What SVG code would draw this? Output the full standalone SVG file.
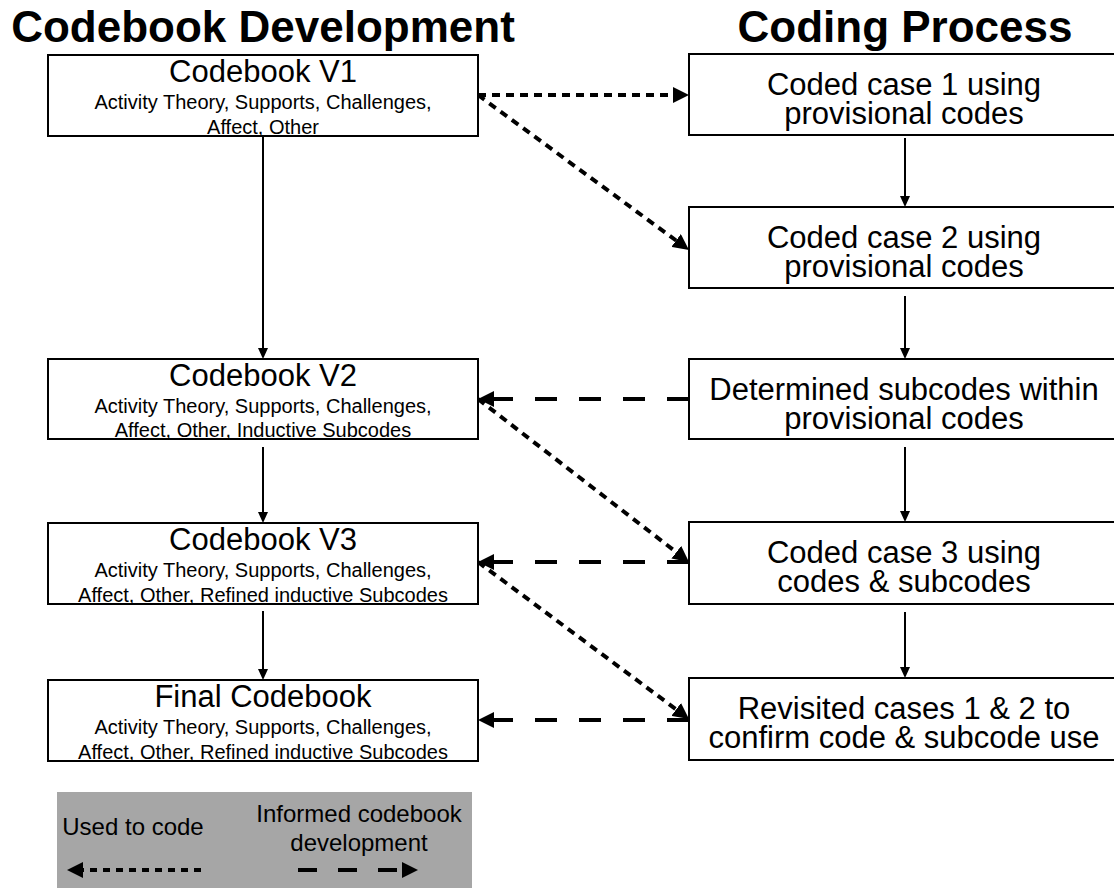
<svg xmlns="http://www.w3.org/2000/svg" width="1114" height="888" viewBox="0 0 1114 888">
<style>
text{font-family:"Liberation Sans",Arial,sans-serif;fill:#000}
.h{font-size:44px;font-weight:bold;text-anchor:middle}
.t{font-size:31px;text-anchor:middle}
.s{font-size:20px;text-anchor:middle}
.l{font-size:24px;text-anchor:middle}
.box{fill:#fff;stroke:#000;stroke-width:2}
.solid{fill:none;stroke:#000;stroke-width:2}
.dot{fill:none;stroke:#000;stroke-width:4;stroke-dasharray:8 6}
.dash{fill:none;stroke:#000;stroke-width:4;stroke-dasharray:22 22}
</style>
<defs>
<marker id="big" markerUnits="userSpaceOnUse" markerWidth="16" markerHeight="16" refX="0" refY="8" orient="auto">
<path d="M0,0 L16,8 L0,16 z" fill="#000"/>
</marker>
<marker id="small" markerUnits="userSpaceOnUse" markerWidth="11" markerHeight="10" refX="0" refY="5" orient="auto">
<path d="M0,0 L11,5 L0,10 z" fill="#000"/>
</marker>
</defs>
<rect width="1114" height="888" fill="#fff"/>
<text class="h" x="263" y="42">Codebook Development</text>
<text class="h" x="905" y="42">Coding Process</text>

<g id="connectors">
<path class="solid" d="M263,136 V348" marker-end="url(#small)"/>
<path class="solid" d="M263,447 V512" marker-end="url(#small)"/>
<path class="solid" d="M263,611 V669" marker-end="url(#small)"/>
<path class="solid" d="M905,138 V196" marker-end="url(#small)"/>
<path class="solid" d="M905,296 V348" marker-end="url(#small)"/>
<path class="solid" d="M905,447 V511" marker-end="url(#small)"/>
<path class="solid" d="M905,612 V667" marker-end="url(#small)"/>
<path class="dot" d="M478,95 H673" marker-end="url(#big)"/>
<path class="dot" d="M478,95 L676.1,240.5" marker-end="url(#big)"/>
<path class="dash" d="M689,399 H494" marker-end="url(#big)"/>
<path class="dot" d="M478,399 L676.3,552.2" marker-end="url(#big)"/>
<path class="dash" d="M689,562 H494" marker-end="url(#big)"/>
<path class="dot" d="M478,562 L676.2,709.4" marker-end="url(#big)"/>
<path class="dash" d="M689,720 H494" marker-end="url(#big)"/>
</g>

<g id="codebook-v1">
<rect class="box" x="48" y="55" width="430" height="81"/>
<text class="t" x="263" y="82">Codebook V1</text>
<text class="s" x="263" y="109">Activity Theory, Supports, Challenges,</text>
<text class="s" x="263" y="134">Affect, Other</text>
</g>
<g id="codebook-v2">
<rect class="box" x="48" y="359" width="430" height="80"/>
<text class="t" x="263" y="386">Codebook V2</text>
<text class="s" x="263" y="413">Activity Theory, Supports, Challenges,</text>
<text class="s" x="263" y="437">Affect, Other, Inductive Subcodes</text>
</g>
<g id="codebook-v3">
<rect class="box" x="48" y="523" width="430" height="81"/>
<text class="t" x="263" y="550">Codebook V3</text>
<text class="s" x="263" y="577">Activity Theory, Supports, Challenges,</text>
<text class="s" x="263" y="602">Affect, Other, Refined inductive Subcodes</text>
</g>
<g id="final-codebook">
<rect class="box" x="48" y="680" width="430" height="81"/>
<text class="t" x="263" y="707">Final Codebook</text>
<text class="s" x="263" y="734">Activity Theory, Supports, Challenges,</text>
<text class="s" x="263" y="759">Affect, Other, Refined inductive Subcodes</text>
</g>

<g id="case1">
<rect class="box" x="689" y="54" width="431" height="81"/>
<text class="t" x="904" y="95">Coded case 1 using</text>
<text class="t" x="904" y="124">provisional codes</text>
</g>
<g id="case2">
<rect class="box" x="689" y="207" width="431" height="81"/>
<text class="t" x="904" y="248">Coded case 2 using</text>
<text class="t" x="904" y="277">provisional codes</text>
</g>
<g id="subcodes">
<rect class="box" x="689" y="359" width="431" height="80"/>
<text class="t" x="904" y="400">Determined subcodes within</text>
<text class="t" x="904" y="429">provisional codes</text>
</g>
<g id="case3">
<rect class="box" x="689" y="522" width="431" height="82"/>
<text class="t" x="904" y="563">Coded case 3 using</text>
<text class="t" x="904" y="592">codes &amp; subcodes</text>
</g>
<g id="revisit">
<rect class="box" x="689" y="678" width="431" height="82"/>
<text class="t" x="904" y="719">Revisited cases 1 &amp; 2 to</text>
<text class="t" x="904" y="748">confirm code &amp; subcode use</text>
</g>

<g id="legend">
<rect x="57" y="792" width="415" height="100" fill="#a6a6a6"/>
<text class="l" x="133" y="835">Used to code</text>
<text class="l" x="359" y="822">Informed codebook</text>
<text class="l" x="359" y="851">development</text>
<path d="M201,870 H83" fill="none" stroke="#000" stroke-width="4" stroke-dasharray="7 6" marker-end="url(#big)"/>
<path d="M298,870 H402" fill="none" stroke="#000" stroke-width="4" stroke-dasharray="19 21" marker-end="url(#big)"/>
</g>
</svg>
